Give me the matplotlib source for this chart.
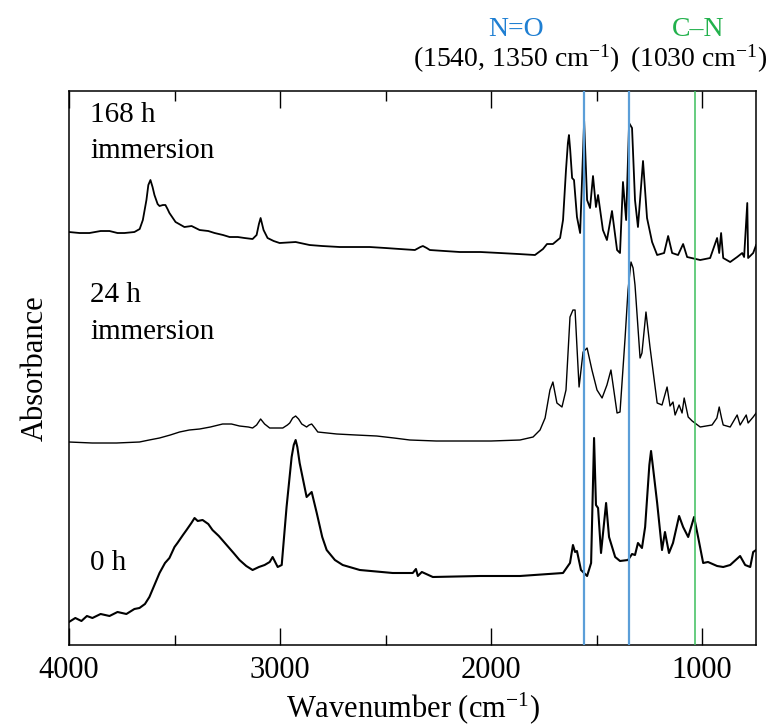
import matplotlib
matplotlib.use("Agg")
import matplotlib.pyplot as plt
from matplotlib.ticker import MultipleLocator

plt.rcParams["font.family"] = ["Liberation Serif", "DejaVu Serif"]
plt.rcParams["mathtext.fontset"] = "custom"
plt.rcParams["mathtext.rm"] = "Liberation Serif"
plt.rcParams["mathtext.it"] = "Liberation Serif:italic"

# spectra (wavenumber cm-1, absorbance with offsets, a.u.)
wn_168 = [4000, 3950, 3903, 3850, 3808, 3770, 3737, 3690, 3665, 3650, 3633, 3624, 3614, 3604,
          3595, 3580, 3571, 3555, 3543, 3533, 3524, 3495, 3453, 3419, 3381, 3340, 3310, 3270,
          3239, 3200, 3168, 3130, 3111, 3100, 3092, 3085, 3078, 3059, 3030, 3002, 2926, 2860,
          2800, 2717, 2650, 2575, 2500, 2432, 2361, 2335, 2323, 2305, 2290, 2220, 2148, 2050,
          1958, 1870, 1792, 1754, 1735, 1707, 1673, 1659, 1645, 1636, 1631, 1625, 1616, 1607,
          1593, 1578, 1569, 1559, 1545, 1531, 1517, 1503, 1493, 1470, 1451, 1427, 1403, 1389,
          1375, 1360, 1346, 1332, 1318, 1304, 1280, 1261, 1237, 1213, 1180, 1161, 1142, 1114,
          1090, 1071, 1009, 962, 929, 919, 910, 900, 867, 834, 810, 801, 786, 782, 758, 744]
abs_168 = [4.13, 4.12, 4.12, 4.14, 4.14, 4.12, 4.12, 4.13, 4.16, 4.25, 4.45, 4.60, 4.65, 4.58,
           4.50, 4.41, 4.39, 4.40, 4.40, 4.36, 4.32, 4.23, 4.18, 4.19, 4.15, 4.14, 4.12, 4.10,
           4.08, 4.08, 4.07, 4.06, 4.10, 4.21, 4.27, 4.21, 4.15, 4.07, 4.04, 4.02, 4.03, 4.00,
           3.99, 3.98, 3.98, 3.98, 3.97, 3.96, 3.95, 3.98, 3.99, 3.97, 3.95, 3.94, 3.93, 3.93,
           3.92, 3.91, 3.90, 3.96, 4.01, 4.01, 4.07, 4.25, 4.75, 5.02, 5.10, 4.95, 4.67, 4.65,
           4.28, 4.12, 4.65, 5.24, 4.45, 4.37, 4.69, 4.38, 4.50, 4.15, 4.05, 4.34, 3.95, 3.92,
           4.63, 4.25, 5.22, 5.17, 4.45, 4.18, 4.84, 4.27, 4.03, 3.90, 3.92, 4.09, 3.92, 3.90,
           4.01, 3.88, 3.85, 3.87, 4.07, 3.92, 4.12, 3.87, 3.83, 3.88, 3.92, 3.88, 4.42, 3.87,
           3.92, 4.00]

wn_24 = [4000, 3890, 3775, 3666, 3620, 3571, 3520, 3476, 3430, 3381, 3330, 3272, 3230, 3192,
         3150, 3130, 3111, 3092, 3073, 3049, 3010, 2987, 2965, 2954, 2940, 2926, 2912, 2897,
         2874, 2862, 2850, 2835, 2821, 2731, 2640, 2542, 2460, 2385, 2260, 2148, 2000, 1863,
         1801, 1768, 1744, 1721, 1707, 1688, 1664, 1645, 1626, 1612, 1602, 1593, 1583, 1564,
         1545, 1522, 1498, 1474, 1451, 1432, 1403, 1389, 1365, 1351, 1337, 1327, 1318, 1313,
         1294, 1285, 1266, 1247, 1213, 1190, 1166, 1152, 1138, 1128, 1109, 1095, 1085, 1066,
         1047, 1009, 953, 930, 919, 908, 900, 867, 834, 820, 791, 782, 758, 744]
abs_24 = [2.03, 2.02, 2.02, 2.03, 2.05, 2.07, 2.10, 2.13, 2.15, 2.16, 2.18, 2.21, 2.21, 2.19,
          2.18, 2.17, 2.20, 2.26, 2.21, 2.17, 2.17, 2.17, 2.20, 2.22, 2.27, 2.29, 2.26, 2.21,
          2.18, 2.20, 2.21, 2.17, 2.13, 2.11, 2.10, 2.09, 2.07, 2.05, 2.04, 2.04, 2.04, 2.05,
          2.08, 2.15, 2.27, 2.55, 2.63, 2.42, 2.38, 2.55, 3.28, 3.35, 3.35, 2.98, 2.58, 2.93,
          2.97, 2.75, 2.55, 2.47, 2.60, 2.75, 2.32, 2.33, 3.07, 3.55, 3.83, 3.77, 3.60, 3.45,
          2.87, 2.92, 3.33, 2.98, 2.42, 2.40, 2.58, 2.39, 2.43, 2.30, 2.40, 2.32, 2.47, 2.28,
          2.24, 2.18, 2.20, 2.27, 2.38, 2.27, 2.20, 2.18, 2.30, 2.20, 2.30, 2.22, 2.28, 2.32]

wn_0 = [4000, 3970, 3941, 3915, 3889, 3850, 3808, 3770, 3728, 3690, 3666, 3640, 3619, 3595,
        3571, 3545, 3524, 3500, 3486, 3460, 3443, 3420, 3405, 3390, 3367, 3340, 3320, 3290,
        3253, 3220, 3192, 3160, 3130, 3100, 3073, 3049, 3035, 3011, 2992, 2969, 2945, 2935,
        2926, 2918, 2907, 2874, 2850, 2826, 2800, 2779, 2740, 2703, 2622, 2466, 2371, 2356,
        2347, 2328, 2276, 2053, 1863, 1659, 1626, 1612, 1602, 1593, 1574, 1545, 1526, 1512,
        1503, 1493, 1479, 1455, 1441, 1412, 1389, 1351, 1332, 1318, 1304, 1285, 1270, 1250,
        1242, 1234, 1213, 1190, 1176, 1157, 1138, 1109, 1090, 1066, 1038, 1019, 995, 972, 929,
        900, 867, 820, 796, 772, 758, 744]
abs_0 = [0.23, 0.27, 0.24, 0.29, 0.27, 0.31, 0.29, 0.33, 0.31, 0.36, 0.37, 0.41, 0.48, 0.60,
         0.72, 0.82, 0.87, 0.98, 1.02, 1.10, 1.15, 1.22, 1.27, 1.24, 1.25, 1.21, 1.15, 1.09,
         1.00, 0.92, 0.85, 0.79, 0.75, 0.78, 0.80, 0.83, 0.88, 0.78, 0.80, 1.38, 1.88, 2.00,
         2.05, 1.98, 1.82, 1.48, 1.53, 1.32, 1.08, 0.95, 0.85, 0.80, 0.75, 0.72, 0.72, 0.76,
         0.69, 0.73, 0.68, 0.69, 0.69, 0.72, 0.82, 1.00, 0.93, 0.94, 0.75, 0.69, 0.82, 2.07,
         1.40, 1.37, 0.92, 1.42, 1.08, 0.88, 0.84, 0.85, 0.91, 0.90, 1.02, 0.97, 1.18, 1.80,
         1.94, 1.80, 1.42, 0.95, 1.13, 0.92, 1.02, 1.29, 1.18, 1.08, 1.28, 1.08, 0.82, 0.83,
         0.79, 0.78, 0.80, 0.89, 0.80, 0.78, 0.93, 0.95]

no_lines = [1560, 1348]
cn_line = 1036

fig = plt.figure(figsize=(7.69, 7.27), dpi=100)
ax = fig.add_axes([0.0897, 0.1128, 0.8933, 0.762])

ax.plot(wn_168, abs_168, color="black", lw=1.3, solid_joinstyle="round")
ax.plot(wn_24, abs_24, color="black", lw=1.0, solid_joinstyle="round")
ax.plot(wn_0, abs_0, color="black", lw=1.5, solid_joinstyle="round")

for w in no_lines:
    ax.axvline(w, color="#5b9ed8", lw=1.6, zorder=3)
ax.axvline(cn_line, color="#3cbf5c", lw=1.1, zorder=3)

ax.set_xlim(4000, 745)
ax.set_ylim(0, 5.54)
ax.xaxis.set_major_locator(MultipleLocator(1000))
ax.xaxis.set_minor_locator(MultipleLocator(500))
ax.tick_params(axis="x", which="both", direction="in", top=True, labelsize=22, pad=8)
ax.tick_params(axis="x", which="major", length=12, width=1.0)
ax.tick_params(axis="x", which="minor", length=7, width=1.0)
ax.set_yticks([])
for s in ax.spines.values():
    s.set_linewidth(1.1)

ax.set_xlabel(r"Wavenumber (cm$^{-1}$)", fontsize=22, labelpad=4)
ax.set_ylabel("Absorbance", fontsize=22, labelpad=14)

tx = 0.031
ax.text(tx, 0.944, "168 h", transform=ax.transAxes, fontsize=21, va="baseline")
ax.text(tx, 0.879, "immersion", transform=ax.transAxes, fontsize=21, va="baseline")
ax.text(tx, 0.619, "24 h", transform=ax.transAxes, fontsize=21, va="baseline")
ax.text(tx, 0.552, "immersion", transform=ax.transAxes, fontsize=21, va="baseline")
ax.text(tx, 0.135, "0 h", transform=ax.transAxes, fontsize=21, va="baseline")

fig.text(0.671, 0.9505, "N=O", color="#1f7fd2", fontsize=20, ha="center", va="baseline")
fig.text(0.671, 0.9078, r"(1540, 1350 cm$^{-1}$)", fontsize=20, ha="center", va="baseline")
fig.text(0.908, 0.9505, "C–N", color="#22b14c", fontsize=20, ha="center", va="baseline")
fig.text(0.908, 0.9078, r"(1030 cm$^{-1}$)", fontsize=20, ha="center", va="baseline")

fig.savefig("out.png", dpi=100)
